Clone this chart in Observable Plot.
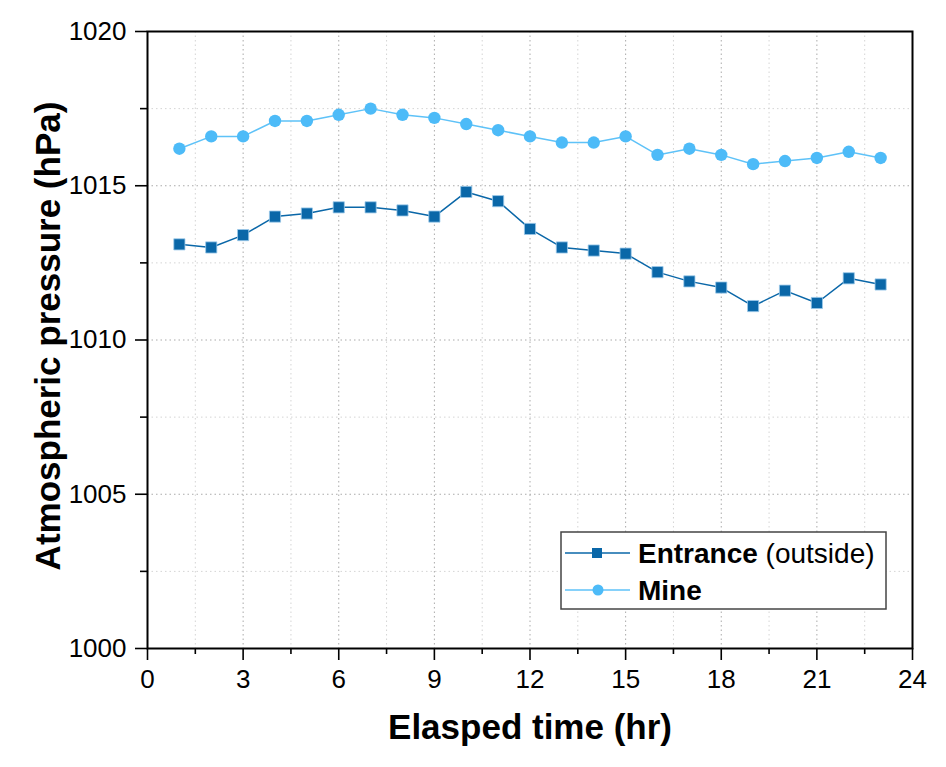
<!DOCTYPE html>
<html>
<head>
<meta charset="utf-8">
<script src="https://cdn.jsdelivr.net/npm/d3@7"></script>
<script src="https://cdn.jsdelivr.net/npm/@observablehq/plot@0.6"></script>
<style>
  html, body { margin: 0; padding: 0; background: #fff; }
  #chart { position: relative; width: 946px; height: 767px; }
  svg { font-family: "Liberation Sans", Arial, sans-serif; }
</style>
</head>
<body>
<div id="chart"></div>
<script>
// ---- data ----
const hours = [1,2,3,4,5,6,7,8,9,10,11,12,13,14,15,16,17,18,19,20,21,22,23];
const entrance = [1013.1,1013.0,1013.4,1014.0,1014.1,1014.3,1014.3,1014.2,1014.0,1014.8,1014.5,1013.6,1013.0,1012.9,1012.8,1012.2,1011.9,1011.7,1011.1,1011.6,1011.2,1012.0,1011.8];
const mine = [1016.2,1016.6,1016.6,1017.1,1017.1,1017.3,1017.5,1017.3,1017.2,1017.0,1016.8,1016.6,1016.4,1016.4,1016.6,1016.0,1016.2,1016.0,1015.7,1015.8,1015.9,1016.1,1015.9];
const xMajorTicks = [0,3,6,9,12,15,18,21,24];
const xMinorTicks = [1.5,4.5,7.5,10.5,13.5,16.5,19.5,22.5];
const yMajorTicks = [1000,1005,1010,1015,1020];
const yMinorTicks = [1002.5,1007.5,1012.5,1017.5];
const seriesNames = ["Entrance", "Mine"];
const colors = {Entrance: "#0a67a8", Mine: "#4dbbf8"};

const rows = [
  ...hours.map((h, i) => ({series: "Entrance", t: h, p: entrance[i]})),
  ...hours.map((h, i) => ({series: "Mine", t: h, p: mine[i]}))
];
const entRows = rows.filter(d => d.series === "Entrance");
const mineRows = rows.filter(d => d.series === "Mine");

const chart = Plot.plot({
  width: 946,
  height: 767,
  marginLeft: 147,
  marginRight: 34,
  marginTop: 31,
  marginBottom: 119,
  style: {fontFamily: '"Liberation Sans", Arial, sans-serif', background: "white", overflow: "visible"},
  x: {domain: [0, 24]},
  y: {domain: [1000, 1020]},
  marks: [
    // grid
    Plot.ruleX(xMinorTicks, {stroke: "#d4d4d4", strokeDasharray: "1.5,3"}),
    Plot.ruleY(yMinorTicks, {stroke: "#d4d4d4", strokeDasharray: "1.5,3"}),
    Plot.ruleX(xMajorTicks, {stroke: "#aaaaaa", strokeDasharray: "1.5,3"}),
    Plot.ruleY(yMajorTicks, {stroke: "#aaaaaa", strokeDasharray: "1.5,3"}),
    // axes
    Plot.axisX({ticks: xMajorTicks, tickSize: 12, tickPadding: 9, fontSize: 26, tickFormat: d => String(d), label: null, stroke: "black", strokeWidth: 1.6, fill: "black"}),
    Plot.axisX({ticks: xMinorTicks, tickSize: 6, tickFormat: () => "", label: null, stroke: "black", strokeWidth: 1.6}),
    Plot.axisY({ticks: yMajorTicks, tickSize: 12, tickPadding: 9, fontSize: 26, tickFormat: d => String(d), label: null, stroke: "black", strokeWidth: 1.6, fill: "black"}),
    Plot.axisY({ticks: yMinorTicks, tickSize: 7, tickFormat: () => "", label: null, stroke: "black", strokeWidth: 1.6}),
    Plot.frame({stroke: "black", strokeWidth: 2}),
    // series
    Plot.line(entRows, {x: "t", y: "p", stroke: colors.Entrance, strokeWidth: 1.5}),
    Plot.dot(entRows, {x: "t", y: "p", symbol: "square", r: 6.3, fill: colors.Entrance, stroke: "#9cc9ea", strokeWidth: 0.8}),
    Plot.line(mineRows, {x: "t", y: "p", stroke: "#5ec2f8", strokeWidth: 1.5}),
    Plot.dot(mineRows, {x: "t", y: "p", symbol: "circle", r: 6.2, fill: colors.Mine}),
    // titles
    Plot.text(["Atmospheric pressure (hPa)"], {frameAnchor: "left", textAnchor: "middle", dx: -99, dy: -4, rotate: -90, text: d => d, fontSize: 35, fontWeight: "bold", fill: "black"}),
    Plot.text(["Elasped time (hr)"], {frameAnchor: "bottom", textAnchor: "middle", dy: 90, text: d => d, fontSize: 35, fontWeight: "bold", fill: "black"})
  ]
});
document.getElementById("chart").appendChild(chart);

// ---- legend (inside plot area, lower right) ----
const svg = d3.select(chart);
const lg = svg.append("g").attr("transform", "translate(561,532)");
lg.append("rect").attr("width", 325).attr("height", 77).attr("fill", "white").attr("stroke", "#444").attr("stroke-width", 1.5);
const legendItems = [
  {name: "Entrance", bold: "Entrance", extra: " (outside)", symbol: "square", line: colors.Entrance, fill: colors.Entrance},
  {name: "Mine", bold: "Mine", extra: "", symbol: "circle", line: "#5ec2f8", fill: colors.Mine}
];
legendItems.forEach((it, i) => {
  const y = 21 + i * 37;
  const g = lg.append("g").attr("transform", `translate(0,${y})`);
  g.append("line").attr("x1", 4).attr("x2", 69).attr("y1", 0).attr("y2", 0).attr("stroke", it.line).attr("stroke-width", 1.5);
  if (it.symbol === "square") {
    g.append("rect").attr("x", 31).attr("y", -5).attr("width", 10).attr("height", 10).attr("fill", it.fill);
  } else {
    g.append("circle").attr("cx", 37).attr("cy", 0).attr("r", 5.5).attr("fill", it.fill);
  }
  const t = g.append("text").attr("x", 77).attr("y", 0).attr("dy", "0.36em").attr("text-anchor", "start").attr("font-size", 28).attr("fill", "black");
  t.append("tspan").attr("font-weight", "bold").text(it.bold);
  if (it.extra) t.append("tspan").attr("font-weight", "normal").text(it.extra);
});
</script>
</body>
</html>
